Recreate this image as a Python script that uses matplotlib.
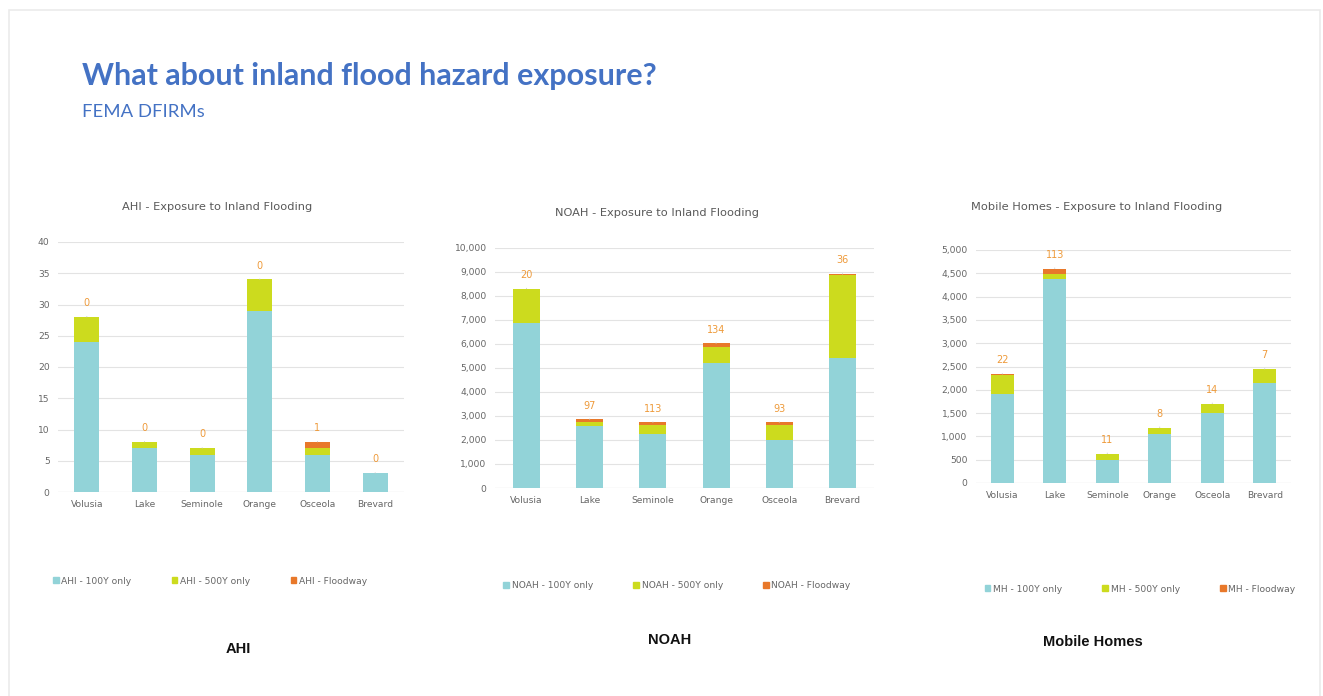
import matplotlib.pyplot as plt
from matplotlib.patches import Rectangle, Patch
from matplotlib.ticker import FuncFormatter

# Counties along the x axis of every chart
counties = ['Volusia', 'Lake', 'Seminole', 'Orange', 'Osceola', 'Brevard']

# AHI exposure
ahi_100y = [24, 7, 6, 29, 6, 3]
ahi_500y = [4, 1, 1, 5, 1, 0]
ahi_floodway = [0, 0, 0, 0, 1, 0]

# NOAH exposure
noah_100y = [6870, 2600, 2270, 5220, 1990, 5400]
noah_500y = [1410, 160, 350, 670, 650, 3474]
noah_floodway = [20, 97, 113, 134, 93, 36]

# Mobile homes exposure
mh_100y = [1905, 4370, 500, 1060, 1511, 2149]
mh_500y = [410, 120, 120, 122, 180, 287]
mh_floodway = [22, 113, 11, 8, 14, 7]

C_100 = '#92D3D8'
C_500 = '#CCDB1E'
C_FW = '#E8782A'
C_LABEL = '#EE9A3A'
TXT = '#666666'

W, H = 1323, 696
fig = plt.figure(figsize=(W / 100, H / 100), dpi=100)
fig.patch.set_facecolor('white')


def px_axes(left, top, right, bottom):
    # axes placed in pixel coordinates (origin top-left)
    return fig.add_axes([left / W, 1 - bottom / H, (right - left) / W, (bottom - top) / H])


def fx(x):
    return x / W


def fy(y):
    return 1 - y / H


def stacked_chart(ax, prefix, v100, v500, vfw, ymax, step, title, title_xy,
                  legend_xy, caption, caption_xy, comma):
    x = range(len(counties))
    bot2 = [a + b for a, b in zip(v100, v500)]
    ax.bar(x, v100, width=0.43, color=C_100, zorder=2)
    ax.bar(x, v500, width=0.43, bottom=v100, color=C_500, zorder=2)
    ax.bar(x, vfw, width=0.43, bottom=bot2, color=C_FW, zorder=2)

    # floodway counts above each stack
    for i, (b, f) in enumerate(zip(bot2, vfw)):
        ax.annotate(str(f), xy=(i, b + f), xytext=(0, 10), textcoords='offset points',
                    ha='center', va='center', fontsize=7, color=C_LABEL,
                    arrowprops=dict(arrowstyle='-', color='#C8C8C8', lw=0.6,
                                    shrinkA=4, shrinkB=0))

    ax.set_xlim(-0.5, len(counties) - 0.5)
    ax.set_ylim(0, ymax)
    ax.set_yticks(range(0, ymax + 1, step))
    if comma:
        ax.yaxis.set_major_formatter(FuncFormatter(lambda v, p: '{:,.0f}'.format(v)))
    ax.set_xticks(list(x))
    ax.set_xticklabels(counties)
    ax.tick_params(length=0, labelsize=6.6, colors=TXT, pad=6)
    ax.grid(axis='y', color='#E3E3E3', lw=0.8, zorder=0)
    for s in ax.spines.values():
        s.set_visible(False)
    ax.axhline(0, color='#D9D9D9', lw=0.8, zorder=1)

    fig.text(fx(title_xy[0]), fy(title_xy[1]), title, ha='center', va='center',
             fontsize=8.2, color='#595959')

    handles = [Patch(color=C_100, label=prefix + ' - 100Y only'),
               Patch(color=C_500, label=prefix + ' - 500Y only'),
               Patch(color=C_FW, label=prefix + ' - Floodway')]
    fig.legend(handles=handles, ncol=3, loc='center',
               bbox_to_anchor=(fx(legend_xy[0]), fy(legend_xy[1])),
               frameon=False, fontsize=6.6, handlelength=0.6, handleheight=0.6,
               handletextpad=0.3, columnspacing=4.4, labelcolor=TXT)

    fig.text(fx(caption_xy[0]), fy(caption_xy[1]), caption, ha='center', va='center',
             fontsize=10.5, fontweight='bold', family='Liberation Sans', color='#111111')


# slide frame
fig.patches.append(Rectangle((fx(9), fy(700)), fx(1311), fy(10) - fy(700),
                             transform=fig.transFigure, fill=False,
                             edgecolor='#EBEBEB', lw=1.2))

fig.text(fx(82), fy(76), 'What about inland flood hazard exposure?', ha='left', va='center',
         fontsize=22, fontweight='bold', family='Lato', color='#4472C4')
fig.text(fx(82), fy(112), 'FEMA DFIRMs', ha='left', va='center',
         fontsize=13.3, family='Lato', color='#4472C4')

ax1 = px_axes(58, 242, 404, 492)
stacked_chart(ax1, 'AHI', ahi_100y, ahi_500y, ahi_floodway, 40, 5,
              'AHI - Exposure to Inland Flooding', (217, 207), (210, 581),
              'AHI', (238, 649), False)

ax2 = px_axes(495, 248, 874, 488)
stacked_chart(ax2, 'NOAH', noah_100y, noah_500y, noah_floodway, 10000, 1000,
              'NOAH - Exposure to Inland Flooding', (657, 213), (677, 586),
              'NOAH', (670, 640), True)

ax3 = px_axes(976, 250, 1291, 483)
stacked_chart(ax3, 'MH', mh_100y, mh_500y, mh_floodway, 5000, 500,
              'Mobile Homes - Exposure to Inland Flooding', (1097, 207), (1140, 589),
              'Mobile Homes', (1093, 642), True)

plt.savefig('out.png', dpi=100, facecolor='white')
